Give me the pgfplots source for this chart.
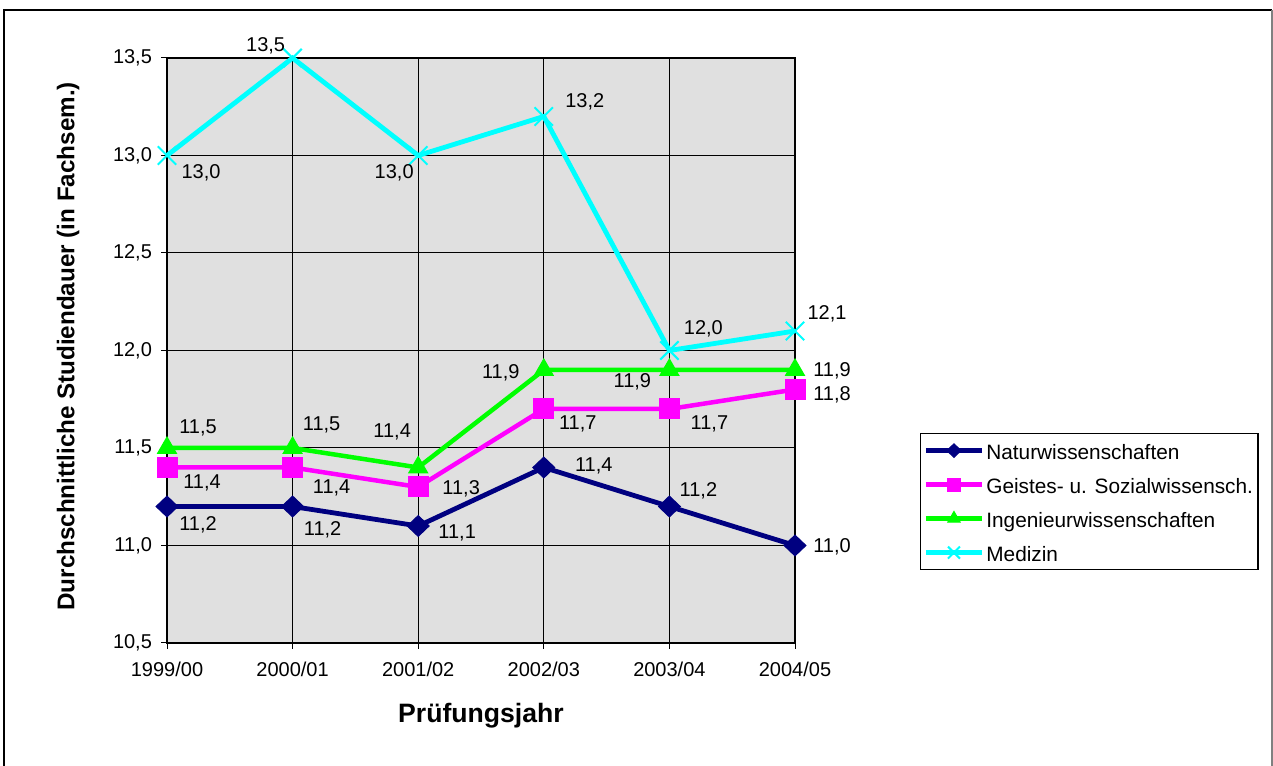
\documentclass[border=0pt]{standalone}
\usepackage{fontspec}
\setmainfont{Liberation Sans}
\usepackage{pgfplots}
\usepackage{pgfplotstable}
\pgfplotsset{compat=1.18}
\definecolor{natur}{HTML}{000080}
\definecolor{geist}{HTML}{FF00FF}
\definecolor{ing}{HTML}{00FF00}
\definecolor{med}{HTML}{00FFFF}
\definecolor{plotbg}{HTML}{E0E0E0}

% x = year index, y = value, dx/dy = label offset (pt)
\pgfplotstableread{
x y dx dy
0 11.2 15.5 -9
1 11.2 15 -11.5
2 11.1 19.5 -3.5
3 11.4 25 1
4 11.2 14.5 8
5 11.0 18.5 -0.5
}\natur
\pgfplotstableread{
x y dx dy
0 11.4 17.5 -7.5
1 11.4 19.5 -10
2 11.3 21.5 -1
3 11.7 17 -7.5
4 11.7 20 -7.5
5 11.8 18.5 -2.5
}\geist
\pgfplotstableread{
x y dx dy
0 11.5 15.5 10
1 11.5 14.5 11.5
2 11.4 -13 18
3 11.9 -21.5 -1.5
4 11.9 -18.5 -6
5 11.9 18.5 -0.5
}\ing
\pgfplotstableread{
x y dx dy
0 13.0 17 -8.5
1 13.5 -13.5 6
2 13.0 -12 -8.5
3 13.2 20.5 7.5
4 12.0 17 11
5 12.1 16 8.5
}\med

\pgfplotsset{
  lbl/.style={
    nodes near coords,
    visualization depends on={\thisrow{dx} \as \ldx},
    visualization depends on={\thisrow{dy} \as \ldy},
    every node near coord/.append style={anchor=center, xshift=\ldx pt, yshift=\ldy pt,
      text=black, font=\fontsize{10}{12}\selectfont},
  },
}

\begin{document}
\begin{tikzpicture}[x=0.5pt,y=0.5pt]
\path[use as bounding box] (0,0) rectangle (1273,765);
\draw[line width=1pt] (4,-10) -- (4,755) -- (1272,755);
\draw[line width=1pt, gray] (1272,755) -- (1272,-10);
\begin{axis}[
  at={(83.5pt,61pt)}, anchor=south west,
  scale only axis, width=314pt, height=292.5pt,
  xmin=0, xmax=5, ymin=10.5, ymax=13.5,
  xtick={0,1,2,3,4,5},
  xticklabels={1999/00,2000/01,2001/02,2002/03,2003/04,2004/05},
  ytick={10.5,11,11.5,12,12.5,13,13.5},
  /pgf/number format/.cd, use comma, fixed, fixed zerofill, precision=1, assume math mode=true,
  /pgfplots/.cd,
  tick label style={font=\fontsize{10}{12}\selectfont, black},
  xticklabel style={yshift=-3pt},
  yticklabel style={xshift=-1pt},
  tick pos=left, tick align=outside, major tick length=3pt,
  tick style={black, line width=0.5pt},
  grid=major, grid style={black, line width=0.5pt},
  axis line style={black, line width=1pt},
  axis background/.style={fill=plotbg},
  clip=false,
  xlabel={Prüfungsjahr},
  ylabel={Durchschnittliche Studiendauer (in Fachsem.)},
  xlabel style={font=\fontsize{13.3}{16}\selectfont\bfseries,
    at={(axis description cs:0.5,0)}, anchor=center, yshift=-36.5pt},
  ylabel style={font=\fontsize{12.1}{14}\selectfont\bfseries,
    at={(axis description cs:0,0.507)}, anchor=center, yshift=49.5pt},
  legend style={at={(1.199,0.359)}, anchor=north west, draw=black, line width=0.6pt,
    fill=white, font=\fontsize{10.4}{12}\selectfont, legend cell align=left,
    row sep=5pt, inner xsep=1.5pt, inner ysep=2.5pt,
    nodes={inner sep=1pt, text height=9.5pt, text depth=0.5pt}},
  legend image code/.code={
    \draw[mark repeat=2, mark phase=2, #1, every mark/.append style={scale=0.65}]
      plot coordinates {(0pt,0pt) (14pt,0pt) (28pt,0pt)};},
]
\addplot[natur, line width=2.4pt, mark=diamond*, mark size=5.2pt,
  mark options={solid, fill=natur, line width=0.5pt, xscale=1.4}, lbl]
  table[x=x, y=y] {\natur};
\addlegendentry{Naturwissenschaften}
\addplot[geist, line width=2.25pt, mark=square*, mark size=5pt,
  mark options={solid, fill=geist, line width=0.5pt}, lbl]
  table[x=x, y=y] {\geist};
\addlegendentry{Geistes- u. Sozialwissensch.}
\addplot[ing, line width=2.25pt, mark=triangle*, mark size=5.5pt,
  mark options={solid, fill=ing, line width=0.5pt}, lbl]
  table[x=x, y=y] {\ing};
\addlegendentry{Ingenieurwissenschaften}
\addplot[med, line width=2.4pt, mark=x, mark size=6.5pt,
  mark options={solid, line width=1pt}, lbl]
  table[x=x, y=y] {\med};
\addlegendentry{Medizin}
\end{axis}
\end{tikzpicture}
\end{document}
